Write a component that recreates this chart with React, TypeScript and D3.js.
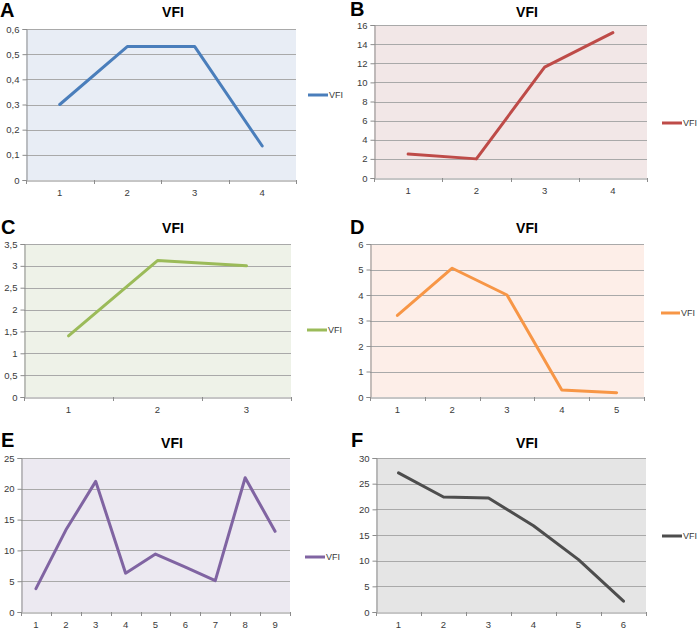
import React, { useEffect, useRef } from "react";
import * as d3 from "d3";

// values, one series per panel
const catsA = ["1", "2", "3", "4"];
const valuesA = [0.3, 0.53, 0.53, 0.135];
const ticksA = [0, 0.1, 0.2, 0.3, 0.4, 0.5, 0.6];

const catsB = ["1", "2", "3", "4"];
const valuesB = [2.5, 2.0, 11.6, 15.2];
const ticksB = [0, 2, 4, 6, 8, 10, 12, 14, 16];

const catsC = ["1", "2", "3"];
const valuesC = [1.4, 3.12, 3.0];
const ticksC = [0, 0.5, 1, 1.5, 2, 2.5, 3, 3.5];

const catsD = ["1", "2", "3", "4", "5"];
const valuesD = [3.2, 5.05, 4.0, 0.27, 0.17];
const ticksD = [0, 1, 2, 3, 4, 5, 6];

const catsE = ["1", "2", "3", "4", "5", "6", "7", "8", "9"];
const valuesE = [3.8, 13.3, 21.2, 6.3, 9.4, 7.3, 5.1, 21.8, 13.1];
const ticksE = [0, 5, 10, 15, 20, 25];

const catsF = ["1", "2", "3", "4", "5", "6"];
const valuesF = [27.1, 22.4, 22.2, 16.8, 10.2, 2.1];
const ticksF = [0, 5, 10, 15, 20, 25, 30];

const seriesName = "VFI";

// layout of each small chart on the page
const panels = [
  { letter: "A", cats: catsA, values: valuesA, ticks: ticksA, color: "#4a7ebb", bg: "#e8edf5",
    plot: [26, 296, 29, 180], title: [173, 17], mark: [0, 17], legend: [308, 328, 95] },
  { letter: "B", cats: catsB, values: valuesB, ticks: ticksB, color: "#be4b48", bg: "#f2e7e7",
    plot: [374, 647, 25, 178], title: [527, 17], mark: [350, 16], legend: [662, 682, 123] },
  { letter: "C", cats: catsC, values: valuesC, ticks: ticksC, color: "#9bbb59", bg: "#eef2e8",
    plot: [24, 291, 244, 397], title: [173, 233], mark: [1, 234], legend: [307, 327, 330] },
  { letter: "D", cats: catsD, values: valuesD, ticks: ticksD, color: "#f79646", bg: "#fdeee8",
    plot: [370, 644, 244, 397], title: [527, 233], mark: [350, 234], legend: [661, 680, 313] },
  { letter: "E", cats: catsE, values: valuesE, ticks: ticksE, color: "#8064a2", bg: "#ece9f1",
    plot: [21, 290, 458, 612], title: [172, 448], mark: [1, 447], legend: [305, 325, 557] },
  { letter: "F", cats: catsF, values: valuesF, ticks: ticksF, color: "#4d4d4d", bg: "#e5e5e5",
    plot: [376, 646, 458, 612], title: [527, 448], mark: [351, 447], legend: [662, 682, 536] },
];

const fmt = (v: number) => String(+v.toFixed(2)).replace(".", ",");
const font = "Liberation Sans, Arial, sans-serif";

function drawPanel(svg: any, p: any) {
  const [x0, x1, y0, y1] = p.plot;
  const g = svg.append("g");

  const x = d3.scaleBand().domain(p.cats).range([x0, x1]).padding(0);
  const y = d3
    .scaleLinear()
    .domain([0, p.ticks[p.ticks.length - 1]])
    .range([y1, y0]);

  g.append("rect")
    .attr("x", x0)
    .attr("y", y0)
    .attr("width", x1 - x0)
    .attr("height", y1 - y0)
    .attr("fill", p.bg);

  // gridlines
  g.append("g")
    .selectAll("line")
    .data(p.ticks.slice(1))
    .join("line")
    .attr("x1", x0)
    .attr("x2", x1)
    .attr("y1", (d: number) => Math.round(y(d)) + 0.5)
    .attr("y2", (d: number) => Math.round(y(d)) + 0.5)
    .attr("stroke", "#a9a9a9");

  // y axis
  g.append("g")
    .attr("transform", `translate(${x0 + 0.5},0)`)
    .call(d3.axisLeft(y).tickValues(p.ticks).tickSize(4).tickPadding(3).tickFormat(fmt as any))
    .call((a: any) => a.selectAll("line, path").attr("stroke", "#8c8c8c"))
    .call((a: any) =>
      a.selectAll("text").attr("font-size", 9.5).style("fill", "#3a3a3a").attr("font-family", font)
    );

  // x axis: labels at band centres, ticks at band edges
  g.append("g")
    .attr("transform", `translate(0,${y1 + 0.5})`)
    .call(d3.axisBottom(x).tickSize(0).tickPadding(9))
    .call((a: any) => a.select(".domain").attr("stroke", "#8c8c8c"))
    .call((a: any) =>
      a.selectAll("text").attr("font-size", 9.5).style("fill", "#3a3a3a").attr("font-family", font)
    );

  const edges = p.cats.map((c: string) => x(c) as number).concat([x1]);
  g.append("g")
    .selectAll("line")
    .data(edges)
    .join("line")
    .attr("x1", (d: number) => Math.round(d) + 0.5)
    .attr("x2", (d: number) => Math.round(d) + 0.5)
    .attr("y1", y1)
    .attr("y2", y1 + 4)
    .attr("stroke", "#8c8c8c");

  const line = d3
    .line<number>()
    .x((_d, i) => (x(p.cats[i]) as number) + x.bandwidth() / 2)
    .y((d) => y(d));

  g.append("path")
    .attr("d", line(p.values))
    .attr("fill", "none")
    .attr("stroke", p.color)
    .attr("stroke-width", 3)
    .attr("stroke-linejoin", "round")
    .attr("stroke-linecap", "round");

  g.append("text")
    .attr("x", p.title[0])
    .attr("y", p.title[1])
    .attr("text-anchor", "middle")
    .attr("font-family", font)
    .attr("font-weight", "bold")
    .attr("font-size", 14)
    .attr("fill", "#000")
    .text(seriesName);

  g.append("text")
    .attr("x", p.mark[0])
    .attr("y", p.mark[1])
    .attr("font-family", font)
    .attr("font-weight", "bold")
    .attr("font-size", 20)
    .attr("fill", "#000")
    .text(p.letter);

  const [lx1, lx2, ly] = p.legend;
  g.append("line")
    .attr("x1", lx1)
    .attr("x2", lx2)
    .attr("y1", ly)
    .attr("y2", ly)
    .attr("stroke", p.color)
    .attr("stroke-width", 3);
  g.append("text")
    .attr("x", lx2 + 1)
    .attr("y", ly)
    .attr("dy", "0.35em")
    .attr("font-family", font)
    .attr("font-size", 9)
    .attr("fill", "#3a3a3a")
    .text(seriesName);
}

export default function App() {
  const ref = useRef<SVGSVGElement>(null);

  useEffect(() => {
    const svg = d3.select(ref.current);
    svg.selectAll("*").remove();
    panels.forEach((p) => drawPanel(svg, p));
  }, []);

  return (
    <svg
      ref={ref}
      width={698}
      height={629}
      style={{ position: "absolute", left: 0, top: 0, background: "#fff" }}
    />
  );
}
